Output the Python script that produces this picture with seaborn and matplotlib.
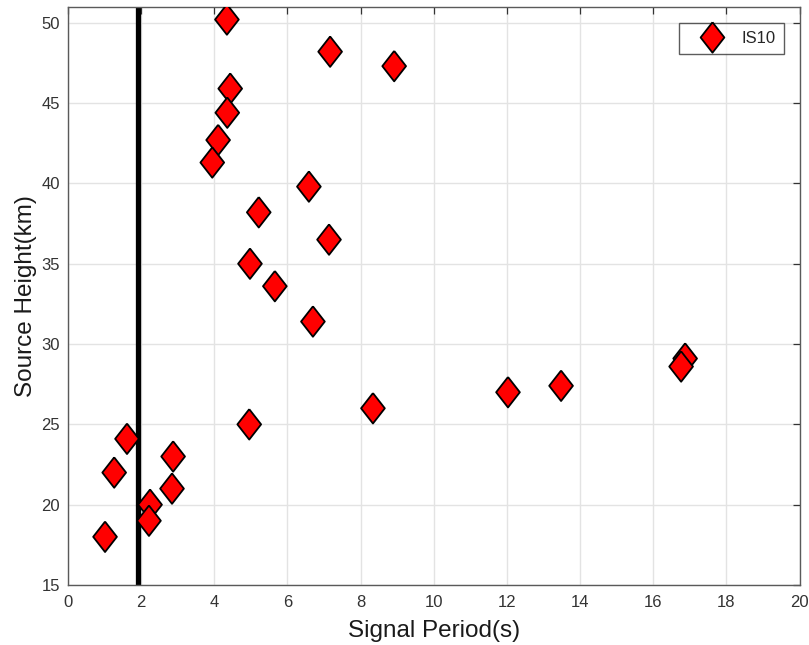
import matplotlib
matplotlib.use("Agg")
import matplotlib.pyplot as plt
import seaborn as sns
import numpy as np
import pandas as pd

# Signal period (s) and source height (km) for station IS10
period = [1.02, 1.27, 1.62, 2.25, 2.22, 2.88, 2.85, 4.96, 4.35, 7.17,
          8.92, 4.44, 4.36, 4.11, 3.95, 6.59, 5.22, 7.14, 4.98, 5.66,
          6.70, 8.34, 12.03, 13.48, 16.87, 16.76]
height = [18.0, 22.0, 24.1, 20.0, 19.0, 23.0, 21.0, 25.0, 50.2, 48.2,
          47.3, 45.9, 44.4, 42.7, 41.3, 39.8, 38.2, 36.5, 35.0, 33.6,
          31.4, 26.0, 27.0, 27.4, 29.1, 28.6]
station = ["IS10"] * len(period)
cutoff_period = 1.92

df = pd.DataFrame({"Signal Period(s)": period,
                   "Source Height(km)": height,
                   "Station": station})

sns.set_theme(style="white")
plt.rcParams["font.family"] = ["Liberation Sans", "DejaVu Sans"]

fig = plt.figure(figsize=(8.09, 6.45), dpi=100)
ax = fig.add_axes([0.0837, 0.093, 0.9048, 0.8966])

# tall diamond marker
diamond = [(0, 1), (0.78, 0), (0, -1), (-0.78, 0), (0, 1)]

sns.scatterplot(data=df, x="Signal Period(s)", y="Source Height(km)",
                hue="Station", palette={"IS10": "red"},
                marker=diamond, s=480, edgecolor="black", linewidth=1.3,
                ax=ax, zorder=3)

ax.axvline(cutoff_period, color="black", linewidth=3.8, zorder=2)

ax.set_xlim(0, 20)
ax.set_ylim(15, 51)
ax.set_xticks(np.arange(0, 21, 2))
ax.set_yticks(np.arange(15, 51, 5))
ax.grid(True, color="#e3e3e3", linewidth=1.0)
ax.set_axisbelow(True)

for sp in ax.spines.values():
    sp.set_color("#5a5a5a")
    sp.set_linewidth(1.0)
ax.tick_params(direction="in", length=5, width=0.9, colors="#333333",
               top=True, right=True, labelsize=12)
ax.tick_params(axis="x", pad=7.5)
ax.tick_params(axis="y", pad=5.5)

ax.set_xlabel("Signal Period(s)", fontsize=17.5, color="#1a1a1a", labelpad=7)
ax.set_ylabel("Source Height(km)", fontsize=17.5, color="#1a1a1a", labelpad=3.5)

leg = ax.legend(loc="upper right", frameon=True, fancybox=False,
                edgecolor="#333333", fontsize=12, markerscale=1.0,
                borderaxespad=0.95, handlelength=3.0, handletextpad=0.3,
                borderpad=0.48)
leg.get_frame().set_linewidth(1.0)
for h in leg.legend_handles:
    if hasattr(h, "set_markeredgecolor"):
        h.set_markeredgecolor("black")
        h.set_markerfacecolor("red")
    else:
        h.set_edgecolor("black")
        h.set_facecolor("red")

fig.savefig("out.png", dpi=100)
